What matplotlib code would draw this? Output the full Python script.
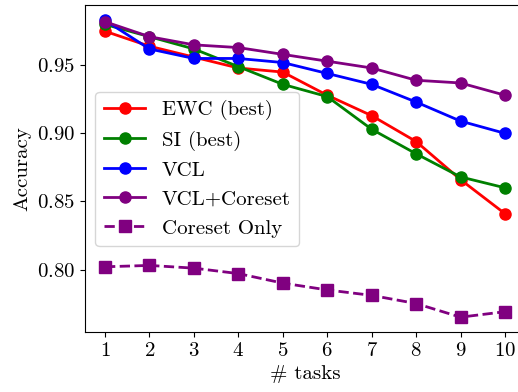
import matplotlib
matplotlib.use('Agg')
import matplotlib.pyplot as plt

plt.rcParams['font.family'] = 'serif'
plt.rcParams['font.serif'] = ['cmr10']
plt.rcParams['mathtext.fontset'] = 'cm'
plt.rcParams['axes.formatter.use_mathtext'] = True

tasks = [1, 2, 3, 4, 5, 6, 7, 8, 9, 10]
ewc = [0.975, 0.964, 0.956, 0.948, 0.945, 0.928, 0.913, 0.894, 0.866, 0.841]
si = [0.980, 0.971, 0.962, 0.949, 0.936, 0.927, 0.903, 0.885, 0.868, 0.860]
vcl = [0.983, 0.962, 0.955, 0.955, 0.952, 0.944, 0.936, 0.923, 0.909, 0.900]
vcl_coreset = [0.982, 0.971, 0.965, 0.963, 0.958, 0.953, 0.948, 0.939, 0.937, 0.928]
coreset_only = [0.802, 0.803, 0.801, 0.797, 0.790, 0.785, 0.781, 0.775, 0.765, 0.769]

fig = plt.figure(figsize=(5.18, 3.92), dpi=100)
ax = fig.add_axes([85 / 518, 60 / 392, 440 / 518, 326.5 / 392])

ax.plot(tasks, ewc, '-o', color='red', lw=2, ms=8, label='EWC (best)')
ax.plot(tasks, si, '-o', color='green', lw=2, ms=8, label='SI (best)')
ax.plot(tasks, vcl, '-o', color='blue', lw=2, ms=8, label='VCL')
ax.plot(tasks, vcl_coreset, '-o', color='purple', lw=2, ms=8, label='VCL+Coreset')
ax.plot(tasks, coreset_only, '--s', color='purple', lw=2, ms=8.5, label='Coreset Only')

ax.set_xticks(tasks)
ax.set_yticks([0.80, 0.85, 0.90, 0.95])
ax.tick_params(labelsize=15)
ax.set_xlabel('# tasks', fontsize=15)
ax.set_ylabel('Accuracy', fontsize=15)
ax.legend(loc='center left', fontsize=15)

fig.savefig('out.png', dpi=100)
